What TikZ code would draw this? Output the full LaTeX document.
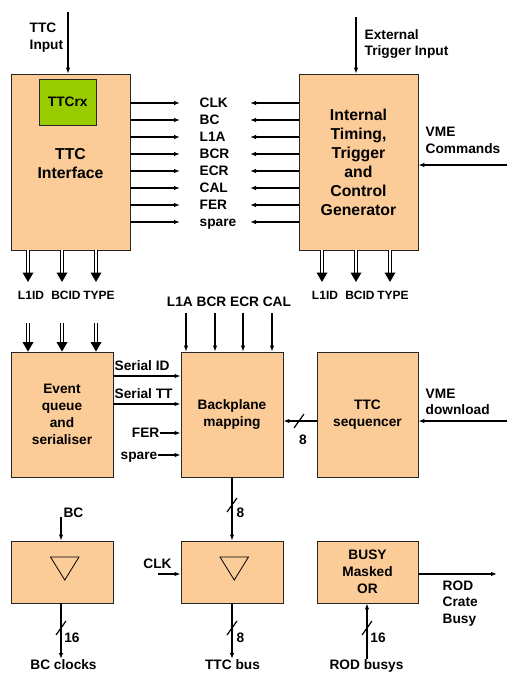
\documentclass[tikz,border=0pt]{standalone}
\usepackage{fontspec}
\setmainfont{Liberation Sans}
\usetikzlibrary{arrows.meta,calc}
\definecolor{peach}{HTML}{FBCB98}
\definecolor{ttcgreen}{HTML}{99CC00}
\begin{document}
\begin{tikzpicture}[x=1pt,y=-1pt,
  box/.style={draw=black!85, line width=0.8pt, fill=peach, inner sep=0pt, align=center,
    font=\bfseries\fontsize{13.7}{17}\selectfont},
  bigbox/.style={box, font=\bfseries\fontsize{15.8}{19}\selectfont},
  lab/.style={inner sep=0pt, font=\bfseries\fontsize{13.7}{16.5}\selectfont},
  one/.style={lab, text height=9.8pt, text depth=0pt},
  small/.style={inner sep=0pt, font=\bfseries\fontsize{12}{14}\selectfont, text height=8.6pt, text depth=0pt},
  wire/.style={line width=1.3pt, -{Latex[length=6pt,width=4.5pt]}},
  dblline/.style={double, double distance=1.8pt, line width=0.9pt},
  slashst/.style={line width=1.2pt},
  tri/.style={line width=0.8pt}]
\useasboundingbox (0,0) rectangle (507,673);

% ---------- top row ----------
\node[bigbox, minimum width=119pt, minimum height=176pt, text depth=0pt] (ttc) at (70.5,162) {\\[-5pt]TTC\\Interface};
\node[draw=black!85, line width=0.8pt, fill=ttcgreen, minimum width=56.5pt, minimum height=46pt, inner sep=0pt,
  font=\bfseries\fontsize{13.7}{16}\selectfont] (rx) at (67.75,102) {TTCrx};
\node[bigbox, minimum width=119pt, minimum height=176pt] (itg) at (358.5,162)
  {Internal\\Timing,\\Trigger\\and\\Control\\Generator};

\coordinate (ttcin) at (68,12);
\draw[wire] (ttcin) -- (ttcin |- ttc.north);
\node[lab, align=left, anchor=west] (ttcinl) at (29.5,37.5) {TTC\\Input};

\coordinate (extin) at (356,17);
\draw[wire] (extin) -- (extin |- itg.north);
\node[lab, align=left, anchor=west] (extinl) at (364.5,44) {External\\Trigger Input};

\coordinate (vmec) at (507,165);
\draw[wire] (vmec) -- (vmec -| itg.east);
\node[lab, align=left, anchor=west] (vmecl) at (425.5,140.5) {VME\\Commands};

\foreach \t [count=\i] in {CLK,BC,L1A,BCR,ECR,CAL,FER,spare} {
  \pgfmathsetmacro\yy{86+17*\i}
  \node[one, anchor=west] (s\i) at (199.5,\yy) {\t};
  \coordinate (sl\i) at (180,\yy);
  \coordinate (sr\i) at (250,\yy);
  \draw[wire] (ttc.east |- sl\i) -- (sl\i);
  \draw[wire] (itg.west |- sr\i) -- (sr\i);
}

% double outputs
\foreach \x/\lx/\t [count=\i] in {28/31/L1ID,62/66/BCID,96/99/TYPE} {
  \coordinate (d\i) at (\x,282);
  \draw[dblline] (ttc.south -| d\i) -- ($(d\i)+(0,-8)$);
  \fill ($(d\i)+(-5.5,-9.5)$) -- ($(d\i)+(5.5,-9.5)$) -- (d\i) -- cycle;
  \node[small] (dl\i) at (\lx,295) {\t};
}
\foreach \x/\lx/\t [count=\i] in {322/325/L1ID,356/360/BCID,390/393/TYPE} {
  \coordinate (g\i) at (\x,282);
  \draw[dblline] (itg.south -| g\i) -- ($(g\i)+(0,-8)$);
  \fill ($(g\i)+(-5.5,-9.5)$) -- ($(g\i)+(5.5,-9.5)$) -- (g\i) -- cycle;
  \node[small] (gl\i) at (\lx,295) {\t};
}

% ---------- middle row ----------
\node[box, minimum width=102pt, minimum height=125pt] (evq) at (62,414.5) {Event\\queue\\and\\serialiser};
\node[box, minimum width=102pt, minimum height=125pt] (bpm) at (232,414.5) {Backplane\\mapping};
\node[box, minimum width=101pt, minimum height=125pt] (seq) at (367.5,414.5) {TTC\\sequencer};

\foreach \x [count=\i] in {28,62,96} {
  \coordinate (e\i) at (\x,323);
  \coordinate (et\i) at (evq.north -| e\i);
  \draw[dblline] (e\i) -- ($(et\i)+(0,-8)$);
  \fill ($(et\i)+(-5.5,-9.5)$) -- ($(et\i)+(5.5,-9.5)$) -- (et\i) -- cycle;
}

\node[one] (topl) at (229,302) {L1A BCR ECR CAL};
\foreach \x [count=\i] in {186,215,243,272} {
  \coordinate (b\i) at (\x,313);
  \draw[wire] (b\i) -- (bpm.north -| b\i);
}

\node[one, anchor=west] (sid) at (114.5,366) {Serial ID};
\coordinate (sidy) at (0,376);
\draw[wire] (evq.east |- sidy) -- (bpm.west |- sidy);
\node[one, anchor=west] (stt) at (114.5,394) {Serial TT};
\coordinate (stty) at (0,404);
\draw[wire] (evq.east |- stty) -- (bpm.west |- stty);

\node[one, anchor=east] (fer) at (159.5,433) {FER};
\draw[wire] (fer.east) -- (fer.east -| bpm.west);
\node[one, anchor=east] (spr) at (157.5,455) {spare};
\draw[wire] (spr.east) -- (spr.east -| bpm.west);

\coordinate (sqy) at (0,421);
\draw[wire] (seq.west |- sqy) -- (bpm.east |- sqy);
\coordinate (sq8) at (299,421);
\draw[slashst] ($(sq8)+(-5,7)$) -- ($(sq8)+(5,-7)$);
\node[one] (sq8l) at (303,439.5) {8};

\coordinate (vmed) at (507,421);
\draw[wire] (vmed) -- (vmed -| seq.east);
\node[lab, align=left, anchor=west] (vmedl) at (425.5,402) {VME\\download};

% ---------- bottom row ----------
\node[box, minimum width=102pt, minimum height=62pt] (bcb) at (62,572) {};
\node[box, minimum width=102pt, minimum height=62pt] (tbb) at (232,572) {};
\node[box, minimum width=101pt, minimum height=62pt] (bsy) at (367.5,572) {BUSY\\Masked\\OR};

\draw[tri] (50.5,557) -- (79,557) -- (64.75,580) -- cycle;
\draw[tri] (220,557) -- (248.5,557) -- (234.25,580) -- cycle;

% BC clocks
\coordinate (bcin) at (61,517);
\draw[wire] (bcin) -- (bcin |- bcb.north);
\node[one] (bcl) at (73.5,513) {BC};
\coordinate (bcout) at (61,659);
\draw[wire] (bcout |- bcb.south) -- (bcout);
\coordinate (bcs) at (61,628);
\draw[slashst] ($(bcs)+(-5,7)$) -- ($(bcs)+(5,-7)$);
\node[one] (bc16) at (72,638) {16};
\node[one] (bcoutl) at (63.5,665) {BC clocks};

% TTC bus
\draw[wire] (bpm.south) -- (tbb.north);
\coordinate (tbs1) at (232,505);
\draw[slashst] ($(tbs1)+(-5,7)$) -- ($(tbs1)+(5,-7)$);
\node[one] (tb8a) at (240.5,513) {8};
\coordinate (clkin) at (158,574);
\draw[wire] (clkin) -- (clkin -| tbb.west);
\node[one] (clkl) at (157.5,564) {CLK};
\coordinate (tbout) at (232,659);
\draw[wire] (tbb.south) -- (tbout);
\coordinate (tbs2) at (232,628);
\draw[slashst] ($(tbs2)+(-5,7)$) -- ($(tbs2)+(5,-7)$);
\node[one] (tb8b) at (240.5,638) {8};
\node[one] (tboutl) at (232.5,665) {TTC bus};

% BUSY
\coordinate (bsyout) at (497,574);
\draw[wire] (bsy.east |- bsyout) -- (bsyout);
\node[lab, align=left, anchor=west] (bsyoutl) at (442.5,603.5) {ROD\\Crate\\Busy};
\coordinate (bsyin) at (367,659);
\draw[wire] (bsyin) -- (bsyin |- bsy.south);
\coordinate (bss) at (367,628);
\draw[slashst] ($(bss)+(-5,7)$) -- ($(bss)+(5,-7)$);
\node[one] (bs16) at (378,638) {16};
\node[one] (bsinl) at (366.5,665) {ROD busys};
\end{tikzpicture}
\end{document}
